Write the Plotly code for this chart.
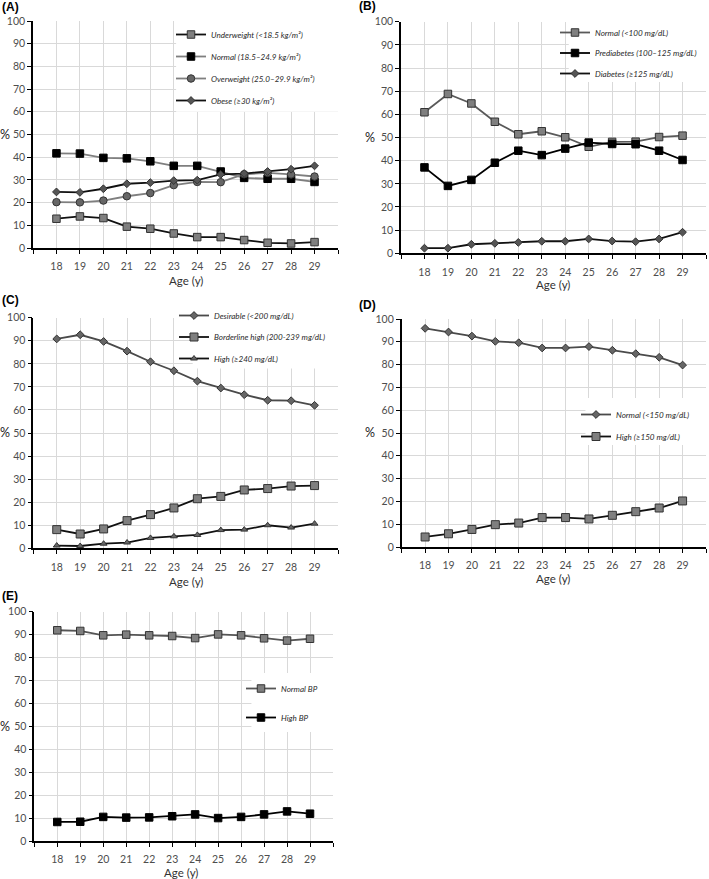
import plotly.graph_objects as go

ages = list(range(18, 30))

# Panel A: BMI
a_under = [12.9, 13.9, 13.2, 9.4, 8.5, 6.4, 4.8, 4.8, 3.5, 2.3, 2.0, 2.6]
a_normal = [41.7, 41.6, 39.7, 39.5, 38.2, 36.2, 36.2, 33.7, 30.9, 30.5, 30.5, 29.1]
a_over = [20.2, 20.1, 20.9, 22.8, 24.2, 27.7, 29.1, 29.0, 32.5, 33.1, 32.4, 31.5]
a_obese = [24.7, 24.5, 26.1, 28.3, 28.8, 29.7, 29.9, 32.4, 32.8, 33.7, 34.7, 36.2]

# Panel B: glucose
b_normal = [60.9, 68.8, 64.7, 56.8, 51.4, 52.7, 50.1, 46.0, 48.1, 48.2, 50.2, 50.8]
b_pre = [37.1, 29.1, 31.7, 39.1, 44.3, 42.4, 45.2, 47.8, 47.2, 47.1, 44.3, 40.3]
b_diab = [2.2, 2.2, 3.9, 4.3, 4.7, 5.2, 5.2, 6.2, 5.3, 5.0, 6.2, 9.1]

# Panel C: cholesterol
c_desir = [90.8, 92.6, 89.7, 85.5, 80.9, 77.0, 72.5, 69.5, 66.6, 64.2, 64.0, 62.0]
c_border = [8.1, 6.2, 8.4, 12.0, 14.6, 17.5, 21.5, 22.5, 25.3, 25.9, 27.0, 27.2]
c_high = [1.2, 1.0, 2.0, 2.5, 4.5, 5.2, 5.8, 7.9, 8.1, 10.0, 9.0, 10.7]

# Panel D: triglycerides
d_normal = [95.9, 94.3, 92.5, 90.2, 89.6, 87.3, 87.3, 87.9, 86.3, 84.8, 83.2, 79.8]
d_high = [4.4, 5.8, 7.7, 9.8, 10.5, 12.9, 12.9, 12.3, 13.9, 15.5, 17.1, 20.2]

# Panel E: blood pressure
e_normal = [91.9, 91.6, 89.7, 90.0, 89.7, 89.4, 88.5, 90.1, 89.7, 88.4, 87.4, 88.2]
e_high = [8.3, 8.4, 10.5, 10.2, 10.3, 10.8, 11.6, 10.0, 10.5, 11.6, 12.9, 11.9]

W, H = 709, 879
FONT = "Lato"
LEGFONT = "Lato"
GRAY = "#7f7f7f"


def fx(p):
    return p / W


def fy(p):
    return 1 - p / H


# panel geometry (pixels)
panels = [
    dict(n=1, x0=33, x1=338, yt=21, yb=248, label="(A)", lx=0, ly=7, tx=186, ty=281, px=5,
         legy=34, legx=213, gap=3, box=[23.1, 30, 60, 100]),
    dict(n=2, x0=401, x1=706, yt=21.7, yb=253.3, label="(B)", lx=357, ly=6, tx=553, ty=285, px=370,
         legy=32, legx=597, gap=1.5, box=[24.15, 30, 74, 100]),
    dict(n=3, x0=33.3, x1=338, yt=317.7, yb=548.3, label="(C)", lx=0, ly=300, tx=186, ty=581, px=5,
         legy=315, legx=216, gap=2.5, box=[23.8, 30, 78, 100]),
    dict(n=4, x0=401.7, x1=706, yt=319, yb=547, label="(D)", lx=357, ly=305, tx=553, ty=578, px=370,
         legy=414, legx=618, gap=3, box=[24.85, 30, 44.7, 65.4]),
    dict(n=5, x0=34.3, x1=333, yt=611.7, yb=841, label="(E)", lx=0, ly=596, tx=181, ty=872, px=5,
         legy=688, legx=283, gap=10, box=[26.45, 30, 47.5, 73.3]),
]

fig = go.Figure()


def add(n, y, name, sym, mcol, lcol, size=7, lw=1.8, mline="#333333"):
    sfx = "" if n == 1 else str(n)
    fig.add_trace(go.Scatter(
        x=ages, y=y, name=name, mode="lines+markers",
        xaxis="x" + sfx, yaxis="y" + sfx,
        legend="legend" + sfx, legendgroup=name + str(n),
        line=dict(color=lcol, width=lw),
        marker=dict(symbol=sym, size=size, color=mcol, line=dict(color=mline, width=1)),
    ))


add(1, a_under, "Underweight (<18.5 kg/m²)", "square", GRAY, "#111111", size=7.5)
add(1, a_normal, "Normal (18.5–24.9 kg/m²)", "square", "#000000", GRAY, size=7.5, mline="#000000")
add(1, a_over, "Overweight (25.0–29.9 kg/m²)", "circle", "#666666", GRAY, size=7.5)
add(1, a_obese, "Obese (≥30 kg/m²)", "diamond", "#555555", "#111111", size=6)

add(2, b_normal, "Normal (<100 mg/dL)", "square", GRAY, "#5a5a5a", size=7.5)
add(2, b_pre, "Prediabetes (100–125 mg/dL)", "square", "#000000", "#000000", size=7.5, mline="#000000")
add(2, b_diab, "Diabetes (≥125 mg/dL)", "diamond", "#555555", "#111111", size=6)

add(3, c_desir, "Desirable (<200 mg/dL)", "diamond", "#666666", "#4a4a4a", size=6)
add(3, c_border, "Borderline high (200-239 mg/dL)", "square", GRAY, "#111111", size=8)
add(3, c_high, "High (≥240 mg/dL)", "triangle-up", "#666666", "#111111", size=6)

add(4, d_normal, "Normal (<150 mg/dL)", "diamond", "#666666", "#4a4a4a", size=6)
add(4, d_high, "High (≥150 mg/dL)", "square", GRAY, "#111111", size=8)

add(5, e_normal, "Normal BP", "square", GRAY, "#555555", size=7.5)
add(5, e_high, "High BP", "square", "#000000", "#000000", size=7.5, mline="#000000")

layout = dict(
    width=W, height=H, margin=dict(l=0, r=0, t=0, b=0, autoexpand=False),
    paper_bgcolor="white", plot_bgcolor="white",
    font=dict(family=FONT, color="#404040", size=10),
    showlegend=True,
)
annotations = []
shapes = []
xt_vals = list(range(17, 31))
xt_text = [""] + [str(a) for a in ages] + [""]

for p in panels:
    sfx = "" if p["n"] == 1 else str(p["n"])
    layout["xaxis" + sfx] = dict(
        domain=[fx(p["x0"]), fx(p["x1"])], anchor="y" + sfx, range=[17, 30],
        tickmode="array", tickvals=xt_vals, ticktext=xt_text,
        showgrid=True, gridcolor="#d9d9d9", gridwidth=1,
        showline=True, linecolor="#000000", linewidth=1.6,
        ticks="outside", ticklen=4, tickcolor="#000000", tickwidth=1,
        tickfont=dict(size=10.5, color="#4d4d4d", family=FONT), zeroline=False,
        ticklabelstandoff=4, fixedrange=True,
    )
    layout["yaxis" + sfx] = dict(
        domain=[fy(p["yb"]), fy(p["yt"])], anchor="x" + sfx, range=[0, 100],
        tickmode="array", tickvals=list(range(0, 101, 10)),
        showgrid=True, gridcolor="#d9d9d9", gridwidth=1,
        showline=True, linecolor="#000000", linewidth=1.6,
        ticks="outside", ticklen=4, tickcolor="#000000", tickwidth=1,
        tickfont=dict(size=10.5, color="#4d4d4d", family=FONT), zeroline=False,
        fixedrange=True,
    )
    layout["legend" + sfx] = dict(
        x=fx(p["legx"] - 42), y=fy(p["legy"] - 14), xanchor="left", yanchor="top",
        xref="paper", yref="paper",
        bgcolor="rgba(255,255,255,0)", borderwidth=0,
        font=dict(family=LEGFONT, size=8.1, color="#2a2a2a", style="italic"),
        traceorder="grouped", tracegroupgap=p["gap"], itemwidth=30,
    )
    b = p["box"]
    shapes.append(dict(type="rect", xref="x" + sfx, yref="y" + sfx,
                       x0=b[0], x1=b[1], y0=b[2], y1=b[3],
                       fillcolor="white", line=dict(width=0), layer="between"))
    annotations.append(dict(text="<b>" + p["label"] + "</b>", x=fx(p["lx"]), y=fy(p["ly"]),
                            xref="paper", yref="paper", xanchor="left", yanchor="middle",
                            showarrow=False, font=dict(size=12, color="#000000", family="Liberation Sans")))
    annotations.append(dict(text="Age (y)", x=fx(p["tx"]), y=fy(p["ty"]),
                            xref="paper", yref="paper", xanchor="center", yanchor="middle",
                            showarrow=False, font=dict(size=11.5, color="#333333", family=FONT)))
    annotations.append(dict(text="%", x=fx(p["px"]), y=fy((p["yt"] + p["yb"]) / 2),
                            xref="paper", yref="paper", xanchor="center", yanchor="middle",
                            showarrow=False, font=dict(size=12.5, color="#222222", family=FONT)))

layout["annotations"] = annotations
layout["shapes"] = shapes
fig.update_layout(**layout)
fig.write_html("out.html", config={"displayModeBar": False},
               post_script="document.body.style.margin='0px';document.body.style.padding='0px';document.body.style.overflow='hidden';")
